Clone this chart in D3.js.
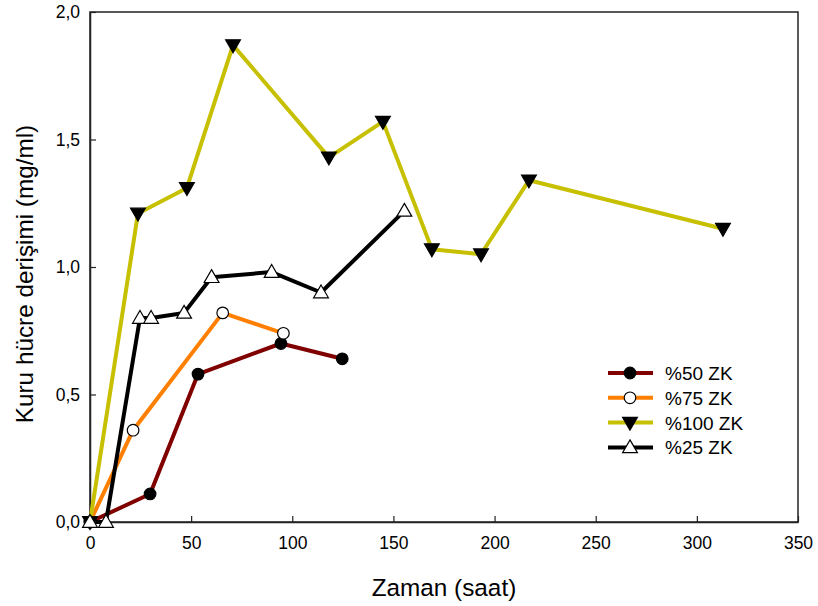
<!DOCTYPE html>
<html>
<head>
<meta charset="utf-8">
<script src="https://cdn.jsdelivr.net/npm/d3@7"></script>
<style>
  html, body { margin: 0; padding: 0; background: #fff; }
  svg { display: block; font-family: "Liberation Sans", Arial, sans-serif; }
</style>
</head>
<body>
<svg id="chart" width="818" height="606"></svg>
<script>
// Dry cell concentration over time for four ZK levels
const seriesNames = ["%50 ZK", "%75 ZK", "%100 ZK", "%25 ZK"];

const time50 = [0, 29.7, 53.4, 94.4, 124.7];
const conc50 = [0, 0.11, 0.58, 0.70, 0.64];

const time75 = [0, 21.3, 65.6, 95.6];
const conc75 = [0, 0.36, 0.82, 0.74];

const time100 = [0, 23.7, 47.9, 70.7, 118.1, 144.8, 169, 193.3, 217, 312.9];
const conc100 = [0, 1.21, 1.31, 1.87, 1.43, 1.57, 1.07, 1.05, 1.34, 1.15];

const time25 = [0, 7.9, 24.7, 30.2, 46.5, 60.1, 89.8, 114.2, 155.4];
const conc25 = [0, 0, 0.80, 0.80, 0.82, 0.96, 0.98, 0.90, 1.22];

const xTicks = [0, 50, 100, 150, 200, 250, 300, 350];
const yTicks = [0, 0.5, 1.0, 1.5, 2.0];

const xTitle = "Zaman (saat)";
const yTitle = "Kuru hücre derişimi (mg/ml)";

const svg = d3.select("#chart");
const plotLeft = 90, plotRight = 798, plotTop = 12, plotBottom = 522;

const x = d3.scaleLinear().domain([0, 350]).range([plotLeft, plotRight]);
const y = d3.scaleLinear().domain([0, 2]).range([plotBottom, plotTop]);

const fmt = v => d3.format(".1f")(v).replace(".", ",");

// frame
svg.append("rect")
  .attr("x", plotLeft).attr("y", plotTop)
  .attr("width", plotRight - plotLeft).attr("height", plotBottom - plotTop)
  .attr("fill", "none").attr("stroke", "#222").attr("stroke-width", 1.5);

// axes with inward ticks
const xAxis = svg.append("g")
  .attr("transform", `translate(0,${plotBottom})`)
  .call(d3.axisBottom(x).tickValues(xTicks).tickSizeInner(-6).tickSizeOuter(0).tickPadding(14.5).tickFormat(d3.format("d")));
const yAxis = svg.append("g")
  .attr("transform", `translate(${plotLeft},0)`)
  .call(d3.axisLeft(y).tickValues(yTicks).tickSizeInner(-6).tickSizeOuter(0).tickPadding(10).tickFormat(fmt));

[xAxis, yAxis].forEach(g => {
  g.select(".domain").attr("stroke", "#222").attr("stroke-width", 1.5);
  g.selectAll(".tick line").attr("stroke", "#222").attr("stroke-width", 1.2);
  g.selectAll(".tick text")
    .attr("fill", "#000")
    .style("font-family", "'Liberation Sans', Arial, sans-serif")
    .style("font-size", "17.5px");
});

// axis titles
svg.append("text")
  .attr("x", 444).attr("y", 596)
  .attr("text-anchor", "middle")
  .style("font-size", "24.3px")
  .text(xTitle);

svg.append("text")
  .attr("transform", "translate(33,274) rotate(-90)")
  .attr("text-anchor", "middle")
  .style("font-size", "24.3px")
  .text(yTitle);

// series definitions
const series = [
  { name: seriesNames[0], t: time50, c: conc50, color: "#800000", marker: "circle", fill: "#000" },
  { name: seriesNames[1], t: time75, c: conc75, color: "#ff8000", marker: "circle", fill: "#fff" },
  { name: seriesNames[2], t: time100, c: conc100, color: "#c6c000", marker: "down", fill: "#000" },
  { name: seriesNames[3], t: time25, c: conc25, color: "#000", marker: "up", fill: "#fff" }
];

const line = d3.line().x(d => x(d[0])).y(d => y(d[1]));

function drawMarker(g, type, cx, cy, fill) {
  if (type === "circle") {
    g.append("circle").attr("cx", cx).attr("cy", cy).attr("r", 5.8)
      .attr("fill", fill).attr("stroke", "#000").attr("stroke-width", 1.2);
  } else {
    const sym = d3.symbol().type(d3.symbolTriangle).size(95);
    g.append("path").attr("d", sym())
      .attr("transform", `translate(${cx},${cy + (type === "down" ? -1 : 1)}) rotate(${type === "down" ? 180 : 0})`)
      .attr("fill", fill).attr("stroke", "#000").attr("stroke-width", 1.2);
  }
}

const plot = svg.append("g");
series.forEach(s => {
  const pts = s.t.map((t, i) => [t, s.c[i]]);
  plot.append("path").datum(pts).attr("d", line)
    .attr("fill", "none").attr("stroke", s.color).attr("stroke-width", 4)
    .attr("stroke-linejoin", "round");
});
series.forEach(s => {
  s.t.forEach((t, i) => drawMarker(plot, s.marker, x(t), y(s.c[i]), s.fill));
});

// legend
const legend = svg.append("g");
series.forEach((s, i) => {
  const ly = 373 + i * 24.8;
  legend.append("line").attr("x1", 608).attr("x2", 653).attr("y1", ly).attr("y2", ly)
    .attr("stroke", s.color).attr("stroke-width", 4);
  drawMarker(legend, s.marker, 630, ly, s.fill);
  legend.append("text").attr("x", 665).attr("y", ly + 7)
    .style("font-size", "19px").text(s.name);
});
</script>
</body>
</html>
